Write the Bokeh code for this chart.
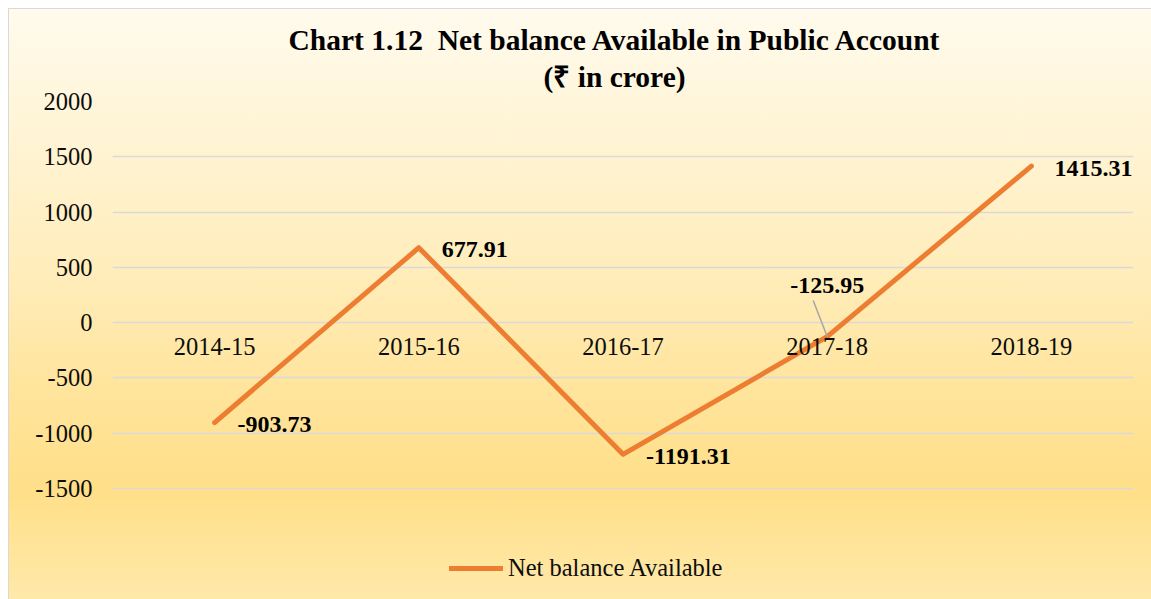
from bokeh.plotting import figure
from bokeh.models import (Range1d, FixedTicker, Legend, LegendItem, Title, ColumnDataSource,
                          PrintfTickFormatter)
from bokeh.core.properties import value
from bokeh.embed import file_html
from bokeh.resources import INLINE

years = ["2014-15", "2015-16", "2016-17", "2017-18", "2018-19"]
net_balance = [-903.73, 677.91, -1191.31, -125.95, 1415.31]
y_ticks = [-1500, -1000, -500, 0, 500, 1000, 1500, 2000]
title_line1 = "Chart 1.12\u00a0 Net balance Available in Public Account"
title_line2 = "(\u20b9 in crore)"
series_name = "Net balance Available"

SERIF = "Liberation Serif"
ORANGE = "#ED7D31"
GRID = "#D9D9D9"

# plot frame: top at 101px, gridline -1500 at 488px, frame runs to the bottom (599px)
px_per_unit = (488 - 101) / 3500.0
y_top = 2000
y_bottom = y_top - (599 - 101) / px_per_unit

p = figure(x_range=years, y_range=Range1d(y_bottom, y_top),
           width=1151, height=599, output_backend="svg", toolbar_location=None,
           min_border_left=112, min_border_right=18, min_border_top=101, min_border_bottom=0)
p.x_range.range_padding = 0
p.border_fill_color = None
p.background_fill_color = None
p.outline_line_color = None
p.styles = {
    "background": "linear-gradient(to bottom, #FFFBEF 0%, #FFF3D2 25%, #FFEDBB 45%, #FFE49C 65%, #FFDF88 82%, #FFE9AA 100%)",
    "box-shadow": "inset 8px 8px 0 0 #FFFFFF, inset 9px 9px 0 0 #D9D9D9",
}

# titles (first added sits nearest the frame)
p.add_layout(Title(text=title_line2, align="left", offset=431, standoff=17,
                   text_font=SERIF, text_font_style="bold", text_font_size="29.5px",
                   text_color="#000000"), "above")
p.add_layout(Title(text=title_line1, align="left", offset=176, standoff=-10,
                   text_font=SERIF, text_font_style="bold", text_font_size="29.5px",
                   text_color="#000000"), "above")

# grid
p.xgrid.grid_line_color = None
p.ygrid.ticker = FixedTicker(ticks=y_ticks)
p.ygrid.grid_line_color = GRID
p.ygrid.grid_line_width = 1.5

# y axis
p.yaxis.ticker = FixedTicker(ticks=y_ticks)
p.yaxis.formatter = PrintfTickFormatter(format="%d")
p.yaxis.axis_line_color = None
p.yaxis.major_tick_line_color = None
p.yaxis.minor_tick_line_color = None
p.yaxis.major_tick_out = 0
p.yaxis.major_label_standoff = 20
p.yaxis.major_label_text_font = SERIF
p.yaxis.major_label_text_font_size = "24.5px"
p.yaxis.major_label_text_color = "#0d0d0d"

# x axis at zero
p.xaxis.fixed_location = 0
p.xaxis.axis_line_color = None
p.xaxis.major_tick_line_color = None
p.xaxis.minor_tick_line_color = None
p.xaxis.major_tick_out = 0
p.xaxis.major_label_standoff = 15
p.xaxis.major_label_text_font = SERIF
p.xaxis.major_label_text_font_size = "24.5px"
p.xaxis.major_label_text_color = "#0d0d0d"

src = ColumnDataSource(dict(x=years, y=net_balance))
r = p.line("x", "y", source=src, line_width=5, line_color=ORANGE,
           line_cap="round", line_join="round")

# data labels (right of point), except 2017-18 which sits above with a leader line
idx_special = 3
others = [i for i in range(len(years)) if i != idx_special]
right_src = ColumnDataSource(dict(
    x=[years[i] for i in others],
    y=[net_balance[i] for i in others],
    lab=[f"{net_balance[i]:.2f}" for i in others]))
p.text("x", "y", text="lab", source=right_src, x_offset=23, y_offset=2,
       text_align="left", text_baseline="middle", text_font=value(SERIF),
       text_font_style="bold", text_font_size="24px", text_color="#000000")

sp_src = ColumnDataSource(dict(x=[years[idx_special]], y=[net_balance[idx_special]],
                               lab=[f"{net_balance[idx_special]:.2f}"]))
p.text("x", "y", text="lab", source=sp_src, x_offset=0, y_offset=-51,
       text_align="center", text_baseline="middle", text_font=value(SERIF),
       text_font_style="bold", text_font_size="24px", text_color="#000000")
# leader line
cat_w = 1021 / 5.0
xs = idx_special + 0.5
p.segment(x0=[xs - 14 / cat_w], y0=[net_balance[idx_special] + 36 / px_per_unit],
          x1=[xs], y1=[net_balance[idx_special]], line_color="#A6A6A6", line_width=1.5)

legend = Legend(items=[LegendItem(label=series_name, renderers=[r])],
                location=(337, 17), orientation="horizontal",
                border_line_color=None, background_fill_color=None, background_fill_alpha=0,
                padding=0, margin=0, glyph_width=54, glyph_height=24,
                label_standoff=5, label_text_font=SERIF, label_text_font_size="24.5px",
                label_text_color="#0d0d0d")
p.add_layout(legend, "center")

open("out.html", "w").write(file_html(p, INLINE))
